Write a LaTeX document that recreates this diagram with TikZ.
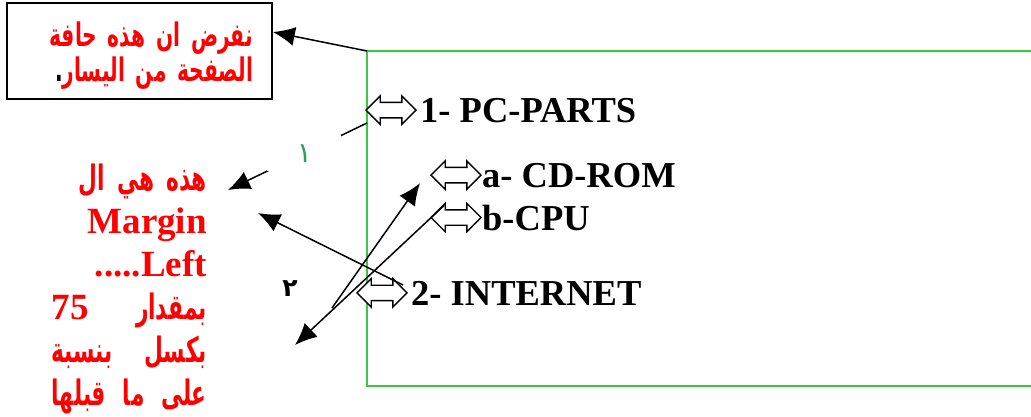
\documentclass[tikz,border=0pt]{standalone}
\usepackage{fontspec}
\setmainfont{Liberation Serif}
\newfontfamily\arabicfont[Script=Arabic,FakeStretch=0.62]{DejaVu Sans}
\newfontfamily\digitfont[Script=Arabic]{DejaVu Sans}
\usepackage{tikz}
\usetikzlibrary{arrows.meta}
\usetikzlibrary{positioning}
\usetikzlibrary{shapes.arrows}
\TeXXeTstate=1
\definecolor{pagegreen}{RGB}{60,200,60}
\definecolor{numgreen}{RGB}{40,160,100}
\tikzstyle{darrow}=[draw,fill=white,shape=double arrow,line width=1.4pt,minimum height=50pt,minimum width=27pt,inner sep=7pt,double arrow head extend=6.5pt]
\tikzstyle{listtext}=[inner sep=0pt,font=\fontsize{36.5pt}{40pt}\selectfont\bfseries]
\tikzstyle{bigarrow}=[line width=1.5pt,-{Latex[length=22pt,width=19pt]}]
\newcommand{\arfont}{\arabicfont\bfseries\fontsize{35pt}{43pt}\selectfont}

\begin{document}
\begin{tikzpicture}[x=1pt,y=-1pt]
\useasboundingbox (0,0) rectangle (1031,416);
% the page with its left edge
\draw[pagegreen,line width=2.2pt] (1040,51) -- (367,51) -- (367,386) -- (1040,386);

\node[draw,line width=1.6pt,minimum width=265pt,minimum height=96pt,text width=227pt,inner xsep=19pt,align=right,
  font=\arabicfont\bfseries\fontsize{32.5pt}{35pt}\selectfont,text=red] (edgebox) at (139.5,51)
  {\rule{0pt}{34pt}\beginR نفرض ان هذه حافة\endR\\ {\color{black}.}\beginR الصفحة من اليسار\endR};

\node[anchor=base east,inner sep=0pt,text width=155pt,align=right,text=red,
  font=\fontsize{37pt}{43pt}\selectfont\bfseries] (margintext) at (207,190)
  {{\arfont\beginR هذه هي ال\endR}\\
   Margin\\
   .....Left\\
   {\arfont\leavevmode\hbox to 155pt{\beginR بمقدار\hfill{\rmfamily\fontsize{37pt}{43pt}\selectfont\bfseries 75}\endR}}\\
   {\arfont\leavevmode\hbox to 155pt{\beginR بكسل\hfill بنسبة\endR}}\\
   {\arfont\leavevmode\hbox to 155pt{\beginR على\hfil\ ما\hfil\ قبلها\endR}}};

% list items
\node[listtext,anchor=base west] (pcparts) at (420,122) {1- PC-PARTS};
\node[darrow,left=3pt of pcparts] (pcarr) {};
\node[listtext,anchor=base west] (cdrom) at (482,187) {a- CD-ROM};
\node[darrow,left=0pt of cdrom] (cdarr) {};
\node[listtext,anchor=base west] (internet) at (411,305) {2- INTERNET};
\node[darrow,left=3pt of internet] (netarr) {};
\node[listtext,anchor=base west] (cpu) at (482,230) {b-CPU};
\node[darrow,left=0pt of cpu] (cpuarr) {};

\node[font=\digitfont\bfseries\fontsize{25pt}{25pt}\selectfont] (num2) at (290,289) {٢};

\coordinate (corner) at (367,51);
\coordinate (A) at (367,123);
\coordinate (B) at (228,190);
\coordinate (C) at (403,285);
\coordinate (D) at (258,213);
\coordinate (E) at (332,308);
\coordinate (F) at (295,345);

\draw[bigarrow] (corner) -- ([yshift=19pt]edgebox.east);
\draw[bigarrow] (A) -- node[pos=.45,fill=white,minimum width=74pt,minimum height=36pt,inner sep=0pt,
  text=numgreen,font=\digitfont\fontsize{28pt}{28pt}\selectfont] (num1) {١} (B);
\draw[bigarrow] (C) -- (D);
\draw[bigarrow] (E) -- ([xshift=-10pt,yshift=-8pt]cdarr.west);
\draw[bigarrow] ([xshift=14pt,yshift=12pt]cpuarr.west) -- (F);
\end{tikzpicture}
\end{document}
